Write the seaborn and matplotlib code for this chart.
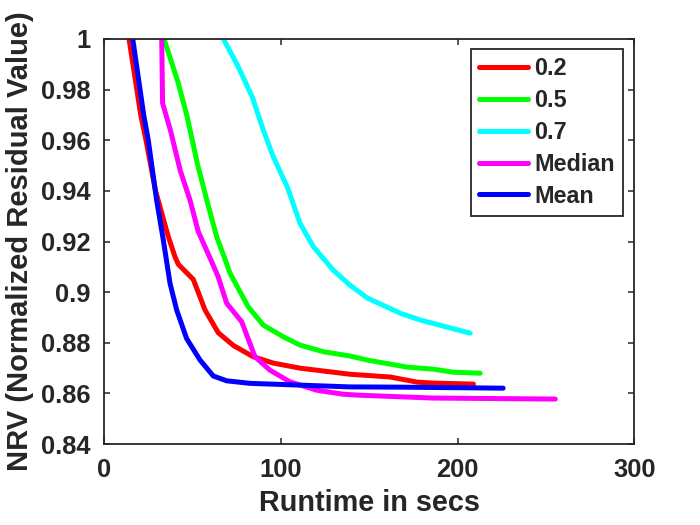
import pandas as pd
import matplotlib
matplotlib.use("Agg")
import matplotlib.pyplot as plt
import seaborn as sns
from matplotlib.ticker import FormatStrFormatter

# values
red_x = [14.0, 20.6, 23.6, 29.0, 33.0, 36.2, 40.0, 41.9, 50.4, 57.0, 64.5, 73.0,
         84.3, 95.7, 110.8, 139.0, 161.9, 177.0, 186.4, 209.0]
red_y = [1.0, 0.970, 0.960, 0.940, 0.930, 0.922, 0.914, 0.911, 0.905, 0.893, 0.884,
         0.879, 0.8745, 0.872, 0.870, 0.8676, 0.8665, 0.8645, 0.8641, 0.8637]

green_x = [33.8, 41.9, 47.0, 52.6, 58.0, 63.6, 68.5, 71.2, 81.5, 90.0, 101.3, 110.8,
           124.0, 139.0, 148.9, 171.5, 186.2, 197.5, 212.8]
green_y = [1.0, 0.9825, 0.969, 0.951, 0.9364, 0.9219, 0.9127, 0.9074, 0.8942, 0.887,
           0.8824, 0.8791, 0.8765, 0.8748, 0.8732, 0.8704, 0.8696, 0.8684, 0.868]

cyan_x = [67.4, 75.8, 83.8, 90.0, 95.7, 103.6, 110.8, 118.3, 129.6, 139.0, 148.9,
          167.5, 178.9, 194.0, 207.2]
cyan_y = [1.0, 0.989, 0.977, 0.964, 0.9534, 0.9415, 0.9272, 0.918, 0.9087, 0.9028,
          0.8977, 0.8917, 0.889, 0.8862, 0.8838]

median_x = [32.5, 33.0, 37.4, 43.0, 48.5, 53.2, 60.8, 64.5, 69.3, 77.8, 85.3, 93.8,
            105.1, 120.2, 135.3, 144.9, 186.2, 255.3]
median_y = [1.0, 0.9746, 0.964, 0.948, 0.9364, 0.9239, 0.912, 0.906, 0.8956, 0.8883,
            0.8745, 0.8692, 0.8646, 0.8613, 0.8597, 0.8593, 0.8582, 0.8578]

mean_x = [16.1, 22.3, 24.9, 29.6, 33.4, 37.2, 41.0, 46.6, 54.2, 61.7, 69.3, 82.5,
          110.8, 139.0, 167.6, 225.8]
mean_y = [1.0, 0.970, 0.960, 0.9364, 0.9206, 0.9035, 0.8929, 0.8817, 0.8732, 0.8669,
          0.865, 0.864, 0.8633, 0.8626, 0.8625, 0.8621]

series = ["0.2", "0.5", "0.7", "Median", "Mean"]
colors = ["#ff0000", "#00ff00", "#00ffff", "#ff00ff", "#0000ff"]
xs = [red_x, green_x, cyan_x, median_x, mean_x]
ys = [red_y, green_y, cyan_y, median_y, mean_y]

x_ticks = [0, 100, 200, 300]
y_ticks = [0.84, 0.86, 0.88, 0.9, 0.92, 0.94, 0.96, 0.98, 1.0]

frames = []
for name, x, y in zip(series, xs, ys):
    frames.append(pd.DataFrame({"runtime": x, "nrv": y, "series": name}))
df = pd.concat(frames, ignore_index=True)

sns.set_style("ticks")
plt.rcParams["font.family"] = ["Liberation Sans", "DejaVu Sans"]
plt.rcParams["font.weight"] = "bold"

fig = plt.figure(figsize=(7, 5.25), dpi=100)
ax = fig.add_axes([0.149, 0.154, 0.757, 0.772])

sns.lineplot(data=df, x="runtime", y="nrv", hue="series", hue_order=series,
             palette=dict(zip(series, colors)), sort=False, estimator=None,
             linewidth=3.6, ax=ax)

ax.set_xlim(0, 300)
ax.set_ylim(0.84, 1.0)
ax.set_xticks(x_ticks)
ax.set_yticks(y_ticks)
ax.yaxis.set_major_formatter(FormatStrFormatter("%g"))

dark = "#262626"
for side in ["top", "right", "bottom", "left"]:
    ax.spines[side].set_visible(True)
    ax.spines[side].set_color(dark)
    ax.spines[side].set_linewidth(1.3)
ax.tick_params(direction="in", top=True, right=True, length=4, width=1.1,
               colors=dark, labelsize=18.4, pad=10)
for lab in ax.get_xticklabels() + ax.get_yticklabels():
    lab.set_fontweight("bold")

ax.set_xlabel("Runtime in secs", fontsize=20.8, fontweight="bold", color=dark, labelpad=5)
ax.set_ylabel("NRV (Normalized Residual Value)", fontsize=21, fontweight="bold",
              color=dark, labelpad=5)

handles, labels = ax.get_legend_handles_labels()
leg = ax.legend(handles, labels, loc="upper right", bbox_to_anchor=(0.979, 0.975),
                borderaxespad=0, handlelength=2.1, handletextpad=0.25,
                labelspacing=0.38, borderpad=0.35, fancybox=False, framealpha=1,
                edgecolor=dark, prop={"weight": "bold", "size": 16.8})
leg.get_frame().set_linewidth(1.3)

fig.savefig("out.png", dpi=100, facecolor="white")
